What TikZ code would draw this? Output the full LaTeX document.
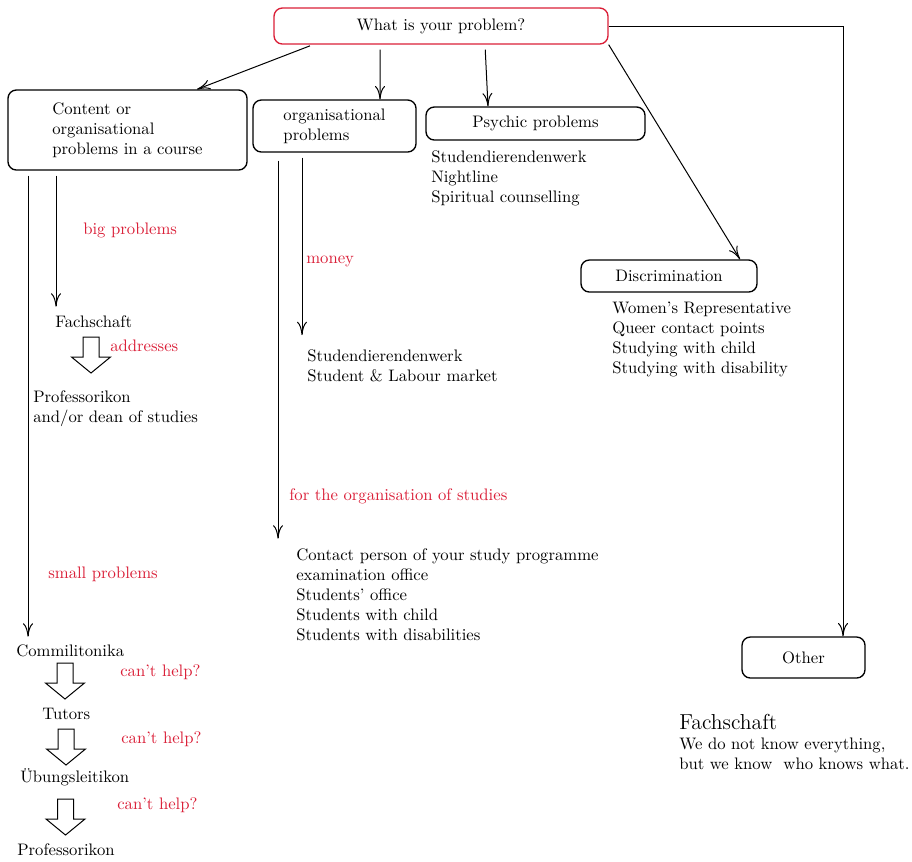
\documentclass[tikz,border=0pt]{standalone}
\usetikzlibrary{arrows.meta}
\definecolor{alertred}{RGB}{218,30,55}
\tikzset{
  box/.style={draw, rounded corners=5pt, line width=0.8pt, align=left},
  redbox/.style={box, draw=alertred},
  info/.style={anchor=north west, inner sep=0pt, align=left},
  item/.style={anchor=base west, inner sep=0pt},
  lbl/.style={item, text=alertred},
  link/.style={-{Computer Modern Rightarrow[length=8pt,width=6pt]}, line width=0.6pt},
  hollowdown/.pic={\draw[line width=0.6pt] (-8,0) -- (8,0) -- (8,20) -- (19.5,20) -- (0,36) -- (-19.5,20) -- (-8,20) -- cycle;}
}
\begin{document}
\begin{tikzpicture}[x=0.6pt,y=-0.6pt]
   \useasboundingbox (0,0) rectangle (912,861);
   % boxes
   \node[redbox, minimum width=200.4pt, minimum height=21.6pt] (question) at (441,26) {What is your problem?};
   \node[box, minimum width=143.4pt, minimum height=48pt] (course) at (127.5,130) {Content or\\organisational\\problems in a course};
   \node[box, minimum width=97.8pt, minimum height=31.2pt] (orga) at (334.5,126) {organisational\\problems};
   \node[box, minimum width=131.4pt, minimum height=19.8pt] (psychic) at (535.5,123.5) {Psychic problems};
   \node[box, minimum width=105.6pt, minimum height=19.2pt] (discrim) at (669,276) {Discrimination};
   \node[box, minimum width=73.8pt, minimum height=24.6pt] (other) at (803.5,657.5) {Other};
   % lists
   \node[info] (psychiclist) at (431,150.5) {Studendierendenwerk\\Nightline\\Spiritual counselling};
   \node[info] (discrimlist) at (612,301.5) {Women's Representative\\Queer contact points\\Studying with child\\Studying with disability};
   \node[info] (moneylist) at (307,349.5) {Studendierendenwerk\\Student \& Labour market};
   \node[info] (studylist) at (296,548.5) {Contact person of your study programme\\examination office\\Students' office\\Students with child\\Students with disabilities};
   \node[info] (profdean) at (33,390.5) {Professorikon\\and/or dean of studies};
   \node[item] (fachschaft) at (55,327) {Fachschaft};
   \node[item] (commil) at (16,656) {Commilitonika};
   \node[item] (tutors) at (42,719) {Tutors};
   \node[item] (uebung) at (20,782) {Übungsleitikon};
   \node[item] (prof) at (17,855) {Professorikon};
   \node[item, font=\fontsize{13}{15}\selectfont] (motto) at (679,729) {Fachschaft};
   \node[info] (mottotext) at (679,737.5) {We do not know everything,\\but we know\ \ who knows what.};
   % red labels
   \node[lbl] (bigp) at (83,234) {big problems};
   \node[lbl] (money) at (306,263) {money};
   \node[lbl] (orgstudies) at (289,500) {for the organisation of studies};
   \node[lbl] (smallp) at (48,578) {small problems};
   \node[lbl] (addresses) at (110,351) {addresses};
   \node[lbl] (help1) at (120,676) {can't help?};
   \node[lbl] (help2) at (121,743) {can't help?};
   \node[lbl] (help3) at (117,809) {can't help?};
   % connectors
   \path[link]
    ([xshift=-76.8pt]question.south) edge[shorten <=2pt] ([xshift=41.7pt]course.north)
    ([xshift=-36.6pt]question.south) edge[shorten <=3pt] ([xshift=27.3pt]orga.north)
    ([xshift=26.4pt]question.south) edge[shorten <=3pt] ([xshift=-28.5pt]psychic.north)
    (question.south east) edge ([xshift=42.6pt]discrim.north);
   \draw[link] (question.east) -| ([xshift=23.7pt]other.north);
   \coordinate (railA) at ([xshift=-59.7pt,yshift=-3pt]course.south);
   \coordinate (railB) at ([xshift=-42.9pt,yshift=-3pt]course.south);
   \coordinate (railC) at ([xshift=-33.9pt,yshift=-4.8pt]orga.south);
   \coordinate (railD) at ([xshift=-19.5pt,yshift=-3pt]orga.south);
   \draw[link, shorten >=4.4pt] (railA) -- (railA |- commil.north);
   \draw[link, shorten >=5pt] (railB) -- (railB |- fachschaft.north);
   \draw[link, shorten >=6pt] (railC) -- (railC |- studylist.north);
   \draw[link, shorten >=8.7pt] (railD) -- (railD |- moneylist.north);
   % hollow arrows
   \pic at (91,337) {hollowdown};
   \pic at (65,663) {hollowdown};
   \pic at (66,729) {hollowdown};
   \pic at (65.5,799) {hollowdown};
\end{tikzpicture}
\end{document}
